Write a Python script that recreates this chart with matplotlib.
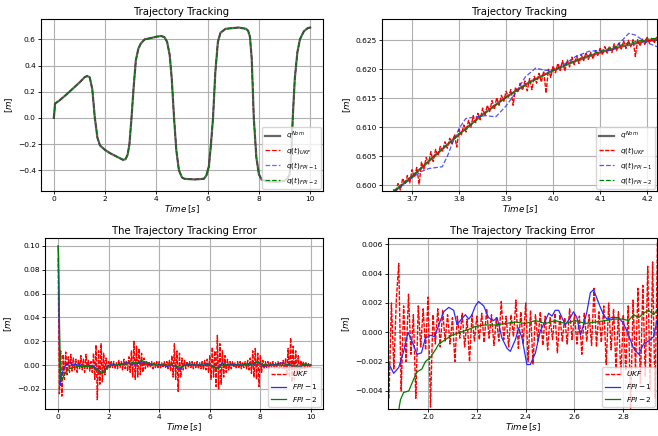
import numpy as np
import matplotlib
matplotlib.use('Agg')
import matplotlib.pyplot as plt

# ---- nominal trajectory (top left, all estimators overlap it) ----
nom_t = [0.0, 0.05, 0.2, 0.5, 1.0, 1.2, 1.3, 1.4, 1.5, 1.6, 1.7, 1.8, 2.0, 2.2, 2.5, 2.7,
         2.8, 2.88, 2.95, 3.03, 3.12, 3.2, 3.3, 3.4, 3.55, 3.8, 4.0, 4.2, 4.32, 4.42,
         4.52, 4.6, 4.69, 4.78, 4.88, 5.0, 5.1, 5.5, 5.85, 5.95, 6.05, 6.13, 6.21, 6.3,
         6.4, 6.5, 6.7, 7.2, 7.5, 7.58, 7.65, 7.72, 7.8, 7.9, 8.0, 8.1, 8.3, 8.7, 9.0,
         9.12, 9.2, 9.27, 9.32, 9.4, 9.5, 9.6, 9.75, 9.9, 10.0]
nom_q = [0.0, 0.11, 0.13, 0.18, 0.27, 0.31, 0.32, 0.31, 0.22, 0.0, -0.15, -0.21, -0.245,
         -0.27, -0.30, -0.32, -0.315, -0.28, -0.20, 0.0, 0.25, 0.44, 0.53, 0.57, 0.60,
         0.61, 0.62, 0.625, 0.615, 0.58, 0.48, 0.30, 0.0, -0.25, -0.40, -0.455, -0.465,
         -0.47, -0.465, -0.44, -0.37, -0.20, 0.0, 0.35, 0.58, 0.65, 0.68, 0.69, 0.68,
         0.665, 0.62, 0.45, 0.0, -0.30, -0.43, -0.47, -0.485, -0.49, -0.48, -0.46,
         -0.43, -0.25, 0.0, 0.30, 0.50, 0.60, 0.66, 0.685, 0.69]

# ---- zoomed trajectory (top right) ----
zoom_nom_t = [3.66, 3.70, 3.75, 3.80, 3.85, 3.90, 3.95, 4.00, 4.05, 4.10, 4.15, 4.20, 4.23]
zoom_nom_q = [0.5988, 0.6015, 0.6052, 0.6088, 0.6122, 0.6152, 0.6178, 0.6198, 0.6215,
              0.6229, 0.6240, 0.6249, 0.6252]
zoom_fpi2_q = [0.5990, 0.6016, 0.6053, 0.6088, 0.6121, 0.6152, 0.6177, 0.6198, 0.6216,
               0.6231, 0.6243, 0.6252, 0.6254]
zoom_fpi1_t = [3.662, 3.700, 3.720, 3.736, 3.764, 3.775, 3.786, 3.800, 3.814, 3.835, 3.857,
               3.878, 3.899, 3.920, 3.941, 3.963, 3.984, 4.005, 4.026, 4.048, 4.076, 4.104,
               4.126, 4.147, 4.161, 4.175, 4.196, 4.221]
zoom_fpi1_q = [0.5989, 0.6013, 0.6024, 0.6029, 0.6032, 0.6050, 0.6073, 0.6098, 0.6115,
               0.6118, 0.6120, 0.6118, 0.6136, 0.6159, 0.6187, 0.6202, 0.6198, 0.6199,
               0.6210, 0.6222, 0.6231, 0.6233, 0.6233, 0.6250, 0.6262, 0.6259, 0.6247, 0.6239]
# UKF estimate, sampled every 5 ms from 3.660 s
zoom_ukf_q = [
    0.5993, 0.5987, 0.6003, 0.5992, 0.6012, 0.6002, 0.6017, 0.6004, 0.6027, 0.6014,
    0.6031, 0.6002, 0.6040, 0.6028, 0.6048, 0.6037, 0.6058, 0.6041, 0.6062, 0.6051,
    0.6067, 0.6059, 0.6075, 0.6064, 0.6081, 0.6072, 0.6087, 0.6066, 0.6096, 0.6087,
    0.6104, 0.6092, 0.6112, 0.6100, 0.6120, 0.6108, 0.6124, 0.6113, 0.6133, 0.6120,
    0.6138, 0.6127, 0.6146, 0.6131, 0.6151, 0.6138, 0.6155, 0.6145, 0.6162, 0.6152,
    0.6165, 0.6138, 0.6169, 0.6160, 0.6176, 0.6164, 0.6180, 0.6163, 0.6184, 0.6165,
    0.6188, 0.6176, 0.6193, 0.6178, 0.6197, 0.6159, 0.6200, 0.6186, 0.6206, 0.6194,
    0.6210, 0.6198, 0.6215, 0.6197, 0.6216, 0.6204, 0.6221, 0.6208, 0.6223, 0.6210,
    0.6225, 0.6215, 0.6229, 0.6217, 0.6229, 0.6218, 0.6232, 0.6224, 0.6236, 0.6225,
    0.6239, 0.6228, 0.6240, 0.6229, 0.6244, 0.6232, 0.6245, 0.6235, 0.6249, 0.6236,
    0.6250, 0.6239, 0.6251, 0.6222, 0.6251, 0.6240, 0.6252, 0.6243, 0.6255, 0.6245,
    0.6255, 0.6245, 0.6255, 0.6246, 0.6255]
zoom_ukf_t = np.linspace(3.66, 4.23, len(zoom_ukf_q))

# ---- tracking error (bottom left) ----
# UKF error, sampled every 50 ms from 0 s
err_ukf = [
    0.090, -0.024, 0.012, -0.026, 0.009, -0.012, 0.011, -0.008, 0.007, -0.006,
    0.009, -0.005, 0.006, -0.004, 0.005, -0.006, 0.004, -0.003, 0.008, -0.004,
    0.005, -0.006, 0.009, -0.003, 0.004, -0.005, 0.003, -0.006, 0.010, -0.012,
    0.017, -0.029, 0.012, -0.016, 0.018, -0.014, 0.010, -0.008, 0.006, -0.004,
    0.003, -0.002, 0.003, -0.002, 0.003, -0.003, 0.002, -0.003, 0.004, -0.002,
    0.003, -0.004, 0.005, -0.003, 0.004, -0.005, 0.007, -0.006, 0.012, -0.010,
    0.020, -0.012, 0.016, -0.010, 0.014, -0.008, 0.010, -0.006, 0.006, -0.003,
    0.003, -0.002, 0.003, -0.002, 0.003, -0.003, 0.002, -0.002, 0.003, -0.002,
    0.003, -0.003, 0.002, -0.002, 0.003, -0.002, 0.003, -0.003, 0.004, -0.005,
    0.008, -0.010, 0.018, -0.012, 0.012, -0.022, 0.010, -0.010, 0.006, -0.004,
    0.004, -0.003, 0.003, -0.002, 0.003, -0.002, 0.003, -0.003, 0.002, -0.002,
    0.003, -0.003, 0.002, -0.003, 0.003, -0.004, 0.004, -0.004, 0.005, -0.006,
    0.008, -0.012, 0.015, -0.010, 0.012, -0.018, 0.025, -0.020, 0.018, -0.016,
    0.012, -0.010, 0.008, -0.006, 0.005, -0.004, 0.003, -0.003, 0.003, -0.002,
    0.002, -0.003, 0.003, -0.002, 0.003, -0.003, 0.002, -0.002, 0.003, -0.003,
    0.004, -0.004, 0.006, -0.007, 0.012, -0.010, 0.014, -0.012, 0.010, -0.018,
    0.008, -0.006, 0.004, -0.003, 0.003, -0.002, 0.003, -0.003, 0.002, -0.002,
    0.003, -0.003, 0.002, -0.002, 0.003, -0.003, 0.002, -0.003, 0.004, -0.004,
    0.006, -0.008, 0.014, -0.010, 0.023, -0.014, 0.016, -0.012, 0.012, -0.008,
    0.008, -0.005, 0.004, -0.003, 0.003, -0.003, 0.002, -0.002, 0.002, -0.002,
    0.001]
err_t = np.linspace(0, 10, len(err_ukf))
fpi_t = [0, 0.02, 0.05, 0.08, 0.12, 0.2, 0.3, 0.45, 0.6, 0.8,
         1.0, 1.2, 1.4, 1.55, 1.7, 1.8, 1.95, 2.1, 2.3, 2.5,
         2.7, 2.9, 3.1, 3.3, 3.5, 3.7, 3.9, 4.1, 4.3, 4.5,
         4.7, 4.85, 5.0, 5.2, 5.5, 5.8, 6.0, 6.2, 6.35, 6.5,
         6.7, 6.9, 7.1, 7.3, 7.5, 7.7, 7.9, 8.05, 8.2, 8.4,
         8.6, 8.8, 9.0, 9.2, 9.4, 9.55, 9.7, 9.85, 10.0]
err_fpi1 = [0.100, 0.070, 0.020, -0.017, -0.010, -0.004, 0.000, 0.002, 0.000, 0.001,
            -0.001, 0.000, -0.001, -0.003, -0.006, -0.005, -0.001, 0.001, 0.000, 0.001,
            0.002, 0.001, 0.001, 0.003, 0.002, 0.000, 0.001, 0.000, -0.001, 0.000,
            -0.002, -0.003, 0.000, 0.001, 0.000, 0.001, 0.000, -0.002, -0.002, 0.002,
            0.000, 0.001, 0.000, 0.001, 0.001, 0.000, 0.003, 0.000, -0.001, 0.001,
            0.000, 0.002, 0.001, 0.000, -0.001, -0.002, 0.001, 0.000, 0.000]
err_fpi2 = [0.100, 0.090, 0.040, 0.005, -0.013, -0.010, -0.006, -0.003, -0.002, -0.001,
            -0.001, -0.001, -0.002, -0.004, -0.007, -0.006, -0.002, 0.000, 0.000, 0.001,
            0.001, 0.002, 0.002, 0.004, 0.002, 0.001, 0.000, 0.000, 0.000, 0.000,
            -0.001, -0.002, 0.000, 0.000, 0.000, 0.000, 0.000, -0.002, -0.003, 0.001,
            0.000, 0.000, 0.000, 0.000, 0.001, 0.001, 0.003, 0.001, 0.000, 0.000,
            0.000, 0.000, 0.000, 0.000, -0.001, -0.003, 0.001, 0.000, 0.000]

# ---- zoomed tracking error (bottom right) ----
# UKF error, sampled every 10 ms from 1.84 s
zerr_ukf = [
    -0.0045, 0.0020, -0.0025, 0.0022, 0.0047, -0.0040, 0.0018, -0.0020, 0.0026, -0.0015,
    0.0012, -0.0045, 0.0018, -0.0010, 0.0016, -0.0012, 0.0024, -0.0051, 0.0012, -0.0008,
    0.0016, -0.0010, 0.0015, -0.0006, 0.0012, -0.0008, 0.0010, -0.0020, 0.0011, -0.0004,
    0.0013, -0.0010, 0.0009, -0.0020, 0.0012, -0.0006, 0.0011, -0.0005, 0.0013, -0.0007,
    0.0016, -0.0004, 0.0012, -0.0009, 0.0010, -0.0006, 0.0021, -0.0005, 0.0011, -0.0010,
    0.0012, -0.0003, 0.0022, -0.0011, 0.0014, -0.0008, 0.0020, -0.0020, 0.0015, -0.0022,
    0.0012, -0.0006, 0.0014, -0.0009, 0.0011, -0.0012, 0.0010, -0.0005, 0.0013, -0.0014,
    0.0012, -0.0006, 0.0010, -0.0008, 0.0016, -0.0005, 0.0012, -0.0008, 0.0011, -0.0015,
    0.0013, -0.0006, 0.0012, -0.0009, 0.0030, -0.0010, 0.0014, -0.0007, 0.0018, -0.0022,
    0.0020, -0.0012, 0.0016, -0.0025, 0.0014, -0.0030, 0.0012, -0.0026, 0.0018, -0.0052,
    0.0022, -0.0025, 0.0030, -0.0035, 0.0032, -0.0030, 0.0045, -0.0040, 0.0048, -0.0045,
    0.0062]
zerr_t = np.linspace(1.84, 2.94, len(zerr_ukf))
zfpi1_t = [1.836, 1.859, 1.880, 1.900, 1.918, 1.934, 1.955, 1.973, 1.989, 2.010,
           2.027, 2.044, 2.064, 2.085, 2.105, 2.119, 2.132, 2.153, 2.167, 2.180,
           2.194, 2.207, 2.228, 2.248, 2.269, 2.283, 2.303, 2.324, 2.337, 2.358,
           2.371, 2.385, 2.405, 2.419, 2.440, 2.460, 2.481, 2.494, 2.508, 2.521,
           2.535, 2.549, 2.562, 2.583, 2.596, 2.610, 2.624, 2.637, 2.651, 2.665,
           2.678, 2.692, 2.706, 2.719, 2.733, 2.753, 2.781, 2.801, 2.822, 2.842,
           2.863, 2.883, 2.903, 2.924, 2.938]
zerr_fpi1 = [-0.0020, -0.0028, -0.0024, -0.0013, 0.0000, -0.0006, -0.0015, -0.0014, -0.0004, -0.0002,
             -0.0003, 0.0005, 0.0014, 0.0017, 0.0015, 0.0005, 0.0008, 0.0012, 0.0009, 0.0012,
             0.0018, 0.0021, 0.0018, 0.0010, 0.0008, 0.0010, -0.0004, -0.0011, -0.0013, -0.0005,
             0.0003, -0.0004, -0.0022, -0.0022, -0.0014, 0.0001, 0.0008, 0.0013, 0.0011, 0.0015,
             0.0015, 0.0010, 0.0005, 0.0010, 0.0014, 0.0010, -0.0002, 0.0005, 0.0014, 0.0027,
             0.0029, 0.0023, 0.0017, 0.0012, 0.0009, 0.0010, 0.0010, 0.0006, -0.0002, -0.0011,
             -0.0015, -0.0008, -0.0006, -0.0003, 0.0008]
zfpi2_t = [1.880, 1.887, 1.900, 1.921, 1.941, 1.955, 1.975, 1.989, 2.010, 2.030,
           2.044, 2.071, 2.098, 2.132, 2.167, 2.194, 2.235, 2.276, 2.317, 2.358,
           2.399, 2.440, 2.481, 2.521, 2.562, 2.603, 2.644, 2.685, 2.726, 2.767,
           2.795, 2.822, 2.842, 2.863, 2.883, 2.903, 2.924, 2.938]
zerr_fpi2 = [-0.0053, -0.0046, -0.0041, -0.0040, -0.0032, -0.0027, -0.0025, -0.0020, -0.0017, -0.0012,
             -0.0008, -0.0005, -0.0002, 0.0000, 0.0002, 0.0004, 0.0005, 0.0005, 0.0006, 0.0007,
             0.0006, 0.0008, 0.0006, 0.0008, 0.0006, 0.0008, 0.0006, 0.0007, 0.0008, 0.0009,
             0.0009, 0.0008, 0.0012, 0.0010, 0.0013, 0.0015, 0.0012, 0.0015]

traj_labels = [r'$q^{Nom}$', r'$q(t)_{UKF}$', r'$q(t)_{FPI-1}$', r'$q(t)_{FPI-2}$']
err_labels = [r'$UKF$', r'$FPI-1$', r'$FPI-2$']

BLUE = '#2a2aff'


def style(ax, title):
    ax.set_title(title, fontsize=7.3, pad=3)
    ax.set_xlabel(r'$Time\,[s]$', fontsize=6.3, labelpad=1)
    ax.set_ylabel(r'$[m]$', fontsize=6.3, labelpad=2)
    ax.tick_params(labelsize=5.4, length=2.2, width=0.6, pad=1.5)
    ax.grid(True, color='#b0b0b0', lw=0.8)
    for s in ax.spines.values():
        s.set_linewidth(0.8)


W, H = 658, 436
fig = plt.figure(figsize=(6.58, 4.36), dpi=100)
ax1 = fig.add_axes([41 / W, 245 / H, 282 / W, 172 / H])
ax2 = fig.add_axes([382 / W, 245 / H, 275 / W, 172 / H])
ax3 = fig.add_axes([45 / W, 27 / H, 278 / W, 171 / H])
ax4 = fig.add_axes([388 / W, 27 / H, 269 / W, 171 / H])

# top left: full trajectory
ax1.plot(nom_t, nom_q, color='k', alpha=0.6, lw=1.6, label=traj_labels[0])
ax1.plot(nom_t, nom_q, 'r--', lw=0.9, label=traj_labels[1])
ax1.plot(nom_t, nom_q, '--', color=BLUE, alpha=0.7, lw=0.9, label=traj_labels[2])
ax1.plot(nom_t, nom_q, '--', color='g', lw=0.9, label=traj_labels[3])
ax1.set_xlim(-0.5, 10.5)
ax1.set_ylim(-0.558, 0.755)
ax1.set_xticks([0, 2, 4, 6, 8, 10])
style(ax1, 'Trajectory Tracking')
ax1.legend(loc='lower right', fontsize=5.3, borderaxespad=0.3)

# top right: zoom of trajectory
ax2.plot(zoom_nom_t, zoom_nom_q, color='k', alpha=0.6, lw=1.6, label=traj_labels[0])
ax2.plot(zoom_ukf_t, zoom_ukf_q, 'r--', lw=1.0, dashes=(3, 1), label=traj_labels[1])
ax2.plot(zoom_fpi1_t, zoom_fpi1_q, '--', color=BLUE, alpha=0.8, lw=0.9, label=traj_labels[2])
ax2.plot(zoom_nom_t, zoom_fpi2_q, '--', color='g', lw=0.9, label=traj_labels[3])
ax2.set_xlim(3.636, 4.221)
ax2.set_ylim(0.59902, 0.62867)
ax2.set_xticks([3.7, 3.8, 3.9, 4.0, 4.1, 4.2])
style(ax2, 'Trajectory Tracking')
ax2.legend(loc='lower right', fontsize=5.3, borderaxespad=0.3)

# bottom left: tracking error
ax3.plot(err_t, err_ukf, 'r--', lw=1.0, dashes=(3, 1), label=err_labels[0])
ax3.plot(fpi_t, err_fpi1, color=BLUE, lw=0.9, label=err_labels[1])
ax3.plot(fpi_t, err_fpi2, color='g', lw=0.9, label=err_labels[2])
ax3.set_xlim(-0.52, 10.48)
ax3.set_ylim(-0.0368, 0.1067)
ax3.set_xticks([0, 2, 4, 6, 8, 10])
style(ax3, 'The Trajectory Tracking Error')
ax3.legend(loc='lower right', fontsize=5.3, borderaxespad=0.3)

# bottom right: zoom of error
ax4.plot(zerr_t, zerr_ukf, 'r--', lw=1.0, dashes=(3, 1), label=err_labels[0])
ax4.plot(zfpi1_t, zerr_fpi1, color=BLUE, lw=0.9, label=err_labels[1])
ax4.plot(zfpi2_t, zerr_fpi2, color='g', lw=0.9, label=err_labels[2])
ax4.set_xlim(1.836, 2.938)
ax4.set_ylim(-0.00523, 0.00643)
ax4.set_xticks([2.0, 2.2, 2.4, 2.6, 2.8])
style(ax4, 'The Trajectory Tracking Error')
ax4.legend(loc='lower right', fontsize=5.3, borderaxespad=0.3)

fig.savefig('out.png', dpi=100)
